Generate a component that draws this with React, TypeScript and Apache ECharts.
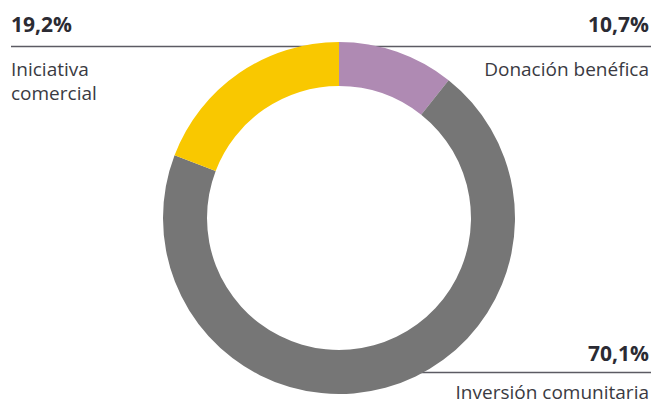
import React, { useEffect, useRef } from "react";
import * as echarts from "echarts";

const categories = ["Donación benéfica", "Inversión comunitaria", "Iniciativa comercial"];
const values = [10.7, 70.1, 19.2];
const colors = ["#AF8AB3", "#767676", "#F9C800"];
const valueLabels = ["10,7%", "70,1%", "19,2%"];

export default function App() {
  const ref = useRef<HTMLDivElement>(null);
  useEffect(() => {
    const chart = echarts.init(ref.current!, null, { renderer: "svg" });
    const font = "'Open Sans', 'Noto Sans', sans-serif";
    const pctStyle = { fontFamily: font, fontSize: 21, fontWeight: "bold" as const, fill: "#2b2b33" };
    const txtStyle = { fontFamily: font, fontSize: 19, fill: "#3a3a42" };
    const lineStyle = { stroke: "#5c5b63", lineWidth: 1.5 };
    chart.setOption({
      animation: false,
      graphic: [
        { type: "line", z: 0, shape: { x1: 11, y1: 46.5, x2: 339, y2: 46.5 }, style: lineStyle },
        { type: "line", z: 0, shape: { x1: 339, y1: 46.5, x2: 651, y2: 46.5 }, style: lineStyle },
        { type: "line", z: 0, shape: { x1: 339, y1: 372.5, x2: 651, y2: 372.5 }, style: lineStyle },
        { type: "text", x: 11, y: 34, style: { ...pctStyle, text: valueLabels[2], textAlign: "left", textVerticalAlign: "bottom" } },
        { type: "text", x: 11, y: 78, style: { ...txtStyle, text: "Iniciativa", textAlign: "left", textVerticalAlign: "bottom" } },
        { type: "text", x: 11, y: 102, style: { ...txtStyle, text: "comercial", textAlign: "left", textVerticalAlign: "bottom" } },
        { type: "text", x: 649, y: 34, style: { ...pctStyle, text: valueLabels[0], textAlign: "right", textVerticalAlign: "bottom" } },
        { type: "text", x: 649, y: 78, style: { ...txtStyle, text: categories[0], textAlign: "right", textVerticalAlign: "bottom" } },
        { type: "text", x: 649, y: 363, style: { ...pctStyle, text: valueLabels[1], textAlign: "right", textVerticalAlign: "bottom" } },
        { type: "text", x: 649, y: 401, style: { ...txtStyle, text: categories[1], textAlign: "right", textVerticalAlign: "bottom" } },
      ],
      series: [
        {
          type: "pie",
          z: 5,
          center: [339, 218],
          radius: [132, 176],
          startAngle: 90,
          clockwise: true,
          silent: true,
          label: { show: false },
          labelLine: { show: false },
          itemStyle: { borderWidth: 0 },
          data: categories.map((c, i) => ({ name: c, value: values[i], itemStyle: { color: colors[i] } })),
        },
      ],
    });
    return () => chart.dispose();
  }, []);
  return <div ref={ref} style={{ position: "fixed", left: 0, top: 0, width: 651, height: 405, background: "#fff" }} />;
}
